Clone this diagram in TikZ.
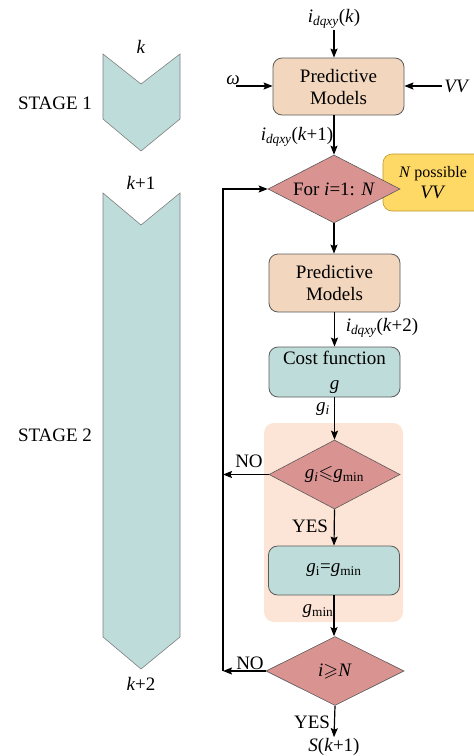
\documentclass[tikz,border=0pt]{standalone}
\usepackage{amssymb}
\usepackage{fontspec}
\setmainfont{Liberation Serif}
\newfontfamily\diagfont{Liberation Serif}
\usetikzlibrary{shapes.geometric,arrows.meta}

\definecolor{chevfill}{RGB}{190,220,218}
\definecolor{peachbox}{RGB}{242,214,189}
\definecolor{tealbox}{RGB}{190,220,218}
\definecolor{rosefill}{RGB}{217,148,146}
\definecolor{yellowbox}{RGB}{255,217,102}
\definecolor{yellowedge}{RGB}{190,150,40}
\definecolor{bgpeach}{RGB}{252,229,214}
\definecolor{edgegray}{RGB}{90,90,90}

\newcommand{\idqxy}[1]{\textit{i}\textsubscript{\textit{dqxy}}(#1)}

\begin{document}
\begin{tikzpicture}[x=1pt,y=-1pt,
  font=\diagfont\fontsize{19}{22}\selectfont,
  arr/.style={-{Stealth[length=9pt,width=7pt,inset=1.5pt]}, line width=1.2pt},
  chev/.style={fill=chevfill, draw=gray, line width=0.6pt},
  procbox/.style={draw=edgegray, line width=0.8pt, rounded corners=9pt,
    minimum width=131pt, inner sep=0pt, align=center},
  decide/.style={diamond, draw=edgegray, line width=0.6pt, fill=rosefill,
    inner sep=0pt, aspect=2},
  lbl/.style={inner sep=1pt}
]
\useasboundingbox (0,0) rectangle (474,756);
\clip (0,0) rectangle (474,756);

% time-step chevrons
\draw[chev] (103,54) -- (141,84) -- (180,54) -- (180,119) -- (141,151) -- (103,119) -- cycle;
\draw[chev] (103,193) -- (141,225) -- (180,193) -- (180,637) -- (141,669) -- (103,637) -- cycle;
\node[lbl] (tk)  at (141,47)  {\textit{k}};
\node[lbl] (tk1) at (141,183) {\textit{k}+1};
\node[lbl] (tk2) at (141,684) {\textit{k}+2};
\node[lbl] (st1) at (55,103) {STAGE 1};
\node[lbl] (st2) at (55,435) {STAGE 2};

% shaded comparison region
\fill[bgpeach, rounded corners=10pt] (264,423) rectangle (403,622);

% candidate voltage vectors (box runs past the right edge)
\node[draw=yellowedge, line width=0.6pt, fill=yellowbox, rounded corners=9pt,
  minimum width=100pt, minimum height=57pt, inner sep=0pt, align=center,
  font=\diagfont\fontsize{16}{21}\selectfont] (vv) at (433,182.5)
  {\textit{N} possible\\{\fontsize{19}{21}\selectfont\textit{VV}}};

% flowchart blocks
\node[procbox, fill=peachbox, minimum height=57pt] (pm1) at (338.5,86.5) {Predictive\\Models};
\node[decide, minimum width=132pt, minimum height=68pt] (d1) at (334,189) {For \textit{i}=1: \textit{N}};
\node[procbox, fill=peachbox, minimum height=58pt] (pm2) at (334.5,283) {Predictive\\Models};
\node[procbox, fill=tealbox, minimum height=50pt] (cost) at (334.5,372) {Cost function\\[3pt]\textit{g}};
\node[decide, minimum width=131pt, minimum height=69pt] (d2) at (334.5,474.5)
  {\textit{g\textsubscript{i}}$\leqslant$\textit{g}\textsubscript{min}};
\node[procbox, fill=tealbox, minimum height=49pt] (upd) at (334,570.5)
  {\textit{g}\textsubscript{i}=\textit{g}\textsubscript{min}};
\node[decide, minimum width=138pt, minimum height=69pt] (d3) at (335,671)
  {\textit{i}$\geqslant$\textit{N}};
\node[lbl] (out) at (334,747) {\textit{S}(\textit{k}+1)};

% inputs of the first prediction
\node[lbl] (lk) at (334,19) {\idqxy{\textit{k}}};
\node[lbl] (w)  at (233,80) {\textit{ω}};
\node[lbl] (vin) at (457,86) {\textit{VV}};
\coordinate (wst) at (236,86);
\coordinate (vst) at (442,86);
\draw[arr] (lk.south) -- (lk.south |- pm1.north);
\draw[arr] (wst) -- (wst -| pm1.west);
\draw[arr] (vst) -- (vst -| pm1.east);

% main flow
\draw[arr] (d1.north |- pm1.south) -- (d1.north);
\draw[arr] (d1.south) -- (d1.south |- pm2.north);
\draw[arr] (pm2.south) -- (cost.north);
\draw[arr] (cost.south) -- (d2.north);
\draw[arr] (d2.south) -- (upd.north);
\draw[arr] (upd.south) -- (d3.north -| upd.south);
\draw[arr] (d3.south) -- (out.north);

% signal labels
\node[lbl] (lk1) at (297,137) {\idqxy{\textit{k}+1}};
\node[lbl] (lk2) at (382,328) {\idqxy{\textit{k}+2}};
\node[lbl] (lgi) at (323,409) {\textit{g\textsubscript{i}}};
\node[lbl] (lgm) at (318,611) {\textit{g}\textsubscript{min}};
\node[lbl] (no1) at (249,461) {NO};
\node[lbl] (ys1) at (310,526) {YES};
\node[lbl] (no2) at (250,663) {NO};
\node[lbl] (ys2) at (312,722) {YES};

% loop back to the next candidate
\coordinate (c3) at (223,671);
\coordinate (c1) at (223,189);
\draw[arr] (d3.west) -- (c3);
\draw[arr] (d2.west) -- (d2.west -| c3);
\draw[arr] (c3) -- (c1) -- (d1.west);
\end{tikzpicture}
\end{document}
